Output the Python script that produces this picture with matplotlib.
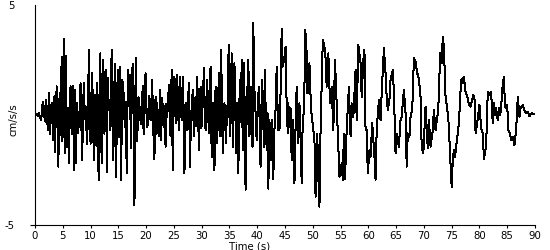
import matplotlib
matplotlib.use("Agg")
import matplotlib.pyplot as plt
import numpy as np

# Acceleration record (cm/s/s)
# early part, 0-22 s
time_early = [0.0, 0.3, 0.5, 0.7, 0.9, 1.1, 1.25, 1.4, 1.55, 1.7, 1.85, 2.0, 2.15, 2.3, 2.5, 2.7,
              2.85, 3.0, 3.15, 3.3, 3.5, 3.6, 3.75, 3.9, 4.05, 4.2, 4.35, 4.45, 4.55, 4.7, 4.8, 4.9,
              5.05, 5.2, 5.3, 5.4, 5.5, 5.6, 5.7, 5.8, 5.95, 6.1, 6.25, 6.4, 6.55, 6.7, 6.85, 7.0,
              7.15, 7.3, 7.45, 7.6, 7.75, 7.9, 8.05, 8.2, 8.35, 8.5, 8.65, 8.8, 8.95, 9.1, 9.25,
              9.4, 9.55, 9.7, 9.85, 10.0, 10.15, 10.3, 10.45, 10.6, 10.75, 10.9, 11.05, 11.15, 11.3,
              11.45, 11.6, 11.75, 11.9, 12.0, 12.15, 12.3, 12.5, 12.65, 12.8, 12.95, 13.1, 13.25,
              13.4, 13.5, 13.65, 13.8, 13.95, 14.1, 14.25, 14.4, 14.6, 14.75, 14.9, 15.05, 15.2,
              15.35, 15.5, 15.7, 15.9, 16.05, 16.2, 16.35, 16.5, 16.65, 16.8, 16.95, 17.1, 17.25,
              17.4, 17.6, 17.75, 17.9, 18.05, 18.15, 18.3, 18.45, 18.6, 18.75, 18.9, 19.05, 19.2,
              19.4, 19.5, 19.6, 19.75, 19.9, 20.05, 20.2, 20.35, 20.5, 20.65, 20.8, 20.95, 21.1,
              21.25, 21.4, 21.5, 21.6, 21.75, 21.9]
accel_early = [0.0, 0.05, -0.05, 0.08, -0.08, -0.25, 0.2, 0.6, -0.1, 0.4, -0.3, 0.7, 0.1, -0.7, 1.0, -0.85,
               0.2, 0.55, -0.4, -1.15, 0.85, -1.7, 0.2, 1.3, -0.6, -2.35, 0.4, 1.0, -0.9, 2.2, -1.2, 2.65,
               -1.0, 3.45, 0.2, -1.75, 2.7, 1.5, -1.3, -1.45, 0.3, -2.2, 0.6, 1.3, -0.6, -0.85, 1.3, -2.5,
               1.15, -2.2, -0.3, 0.55, -0.8, -0.4, 0.35, 1.45, -0.5, -2.05, 0.3, 1.45, -0.2, 0.4, -0.6,
               -1.3, 0.6, 2.95, 0.3, -1.3, 0.9, 1.9, -0.3, -2.05, 0.9, 0.55, -1.4, 1.45, 0.1,
               -2.95, 0.8, 2.8, -0.5, -2.2, 1.45, 2.5, -0.85, 0.4, 2.05, -2.6, 1.7, 0.55,
               0.3, -0.7, 1.0, 2.95, -0.5, -2.05, 1.0, 2.3, -2.8, 0.3, 2.05, 0.3, -1.0,
               2.2, -2.95, 1.6, 1.3, 0.0, -0.55, 0.6, -2.65, 0.4, 2.05, 0.4, 1.8, -1.5,
               1.75, 2.3, -0.25, -4.1, 0.5, 2.6, -1.2, -0.7, 0.8, 0.68, 0.0, -0.4, 0.4,
               1.3, -0.5, -0.85, 0.9, 1.9, 0.15, -0.55, -0.3, 0.85, 0.7, -0.25, 0.3, 1.6,
               -0.5, -1.3, -2.0, 0.55, 0.8, -0.85]

# strong shaking, 22-50 s
time_strong = [22.0, 22.15, 22.3, 22.5, 22.7, 22.9, 23.05, 23.2, 23.35, 23.5, 23.65, 23.8, 23.95, 24.1,
               24.25, 24.4, 24.6, 24.8, 24.95, 25.1, 25.25, 25.4, 25.6, 25.75, 25.9, 26.1, 26.25, 26.4,
               26.6, 26.75, 26.9, 27.05, 27.2, 27.4, 27.55, 27.7, 27.9, 28.05, 28.2, 28.4, 28.6, 28.75,
               28.9, 29.05, 29.2, 29.35, 29.5, 29.65, 29.8, 29.95, 30.1, 30.25, 30.4, 30.55, 30.7,
               30.85, 31.0, 31.15, 31.3, 31.45, 31.6, 31.8, 32.0, 32.15, 32.3, 32.5, 32.65, 32.8,
               32.95, 33.1, 33.3, 33.5, 33.65, 33.8, 33.95, 34.1, 34.25, 34.4, 34.55, 34.7, 34.85,
               35.0, 35.1, 35.25, 35.4, 35.6, 35.75, 35.9, 36.05, 36.2, 36.4, 36.6, 36.75, 36.9,
               37.05, 37.2, 37.4, 37.6, 37.75, 37.9, 38.1, 38.25, 38.4, 38.6, 38.75, 38.9, 39.15,
               39.3, 39.45, 39.6, 39.75, 39.9, 40.1, 40.3, 40.45, 40.6, 40.75, 40.9, 41.05, 41.2,
               41.4, 41.55, 41.7, 41.85, 42.0, 42.2, 42.4, 42.6, 42.75, 42.9, 43.05, 43.2, 43.35,
               43.5, 43.65, 43.8, 44.0, 44.2, 44.4, 44.55, 44.7, 44.9, 45.1, 45.3, 45.5, 45.6, 45.8,
               46.0, 46.2, 46.35, 46.5, 46.7, 46.9, 47.1, 47.25, 47.4, 47.6, 47.8, 48.0, 48.15,
               48.3, 48.5, 48.65, 48.9, 49.05, 49.2, 49.4, 49.55, 49.7, 49.9]
accel_strong = [0.55, -0.3, -0.98, 1.14, -1.14, 0.76, 0.1, -0.53, 0.4, -1.44, 0.5, -0.08, 0.6, 1.36,
                -0.3, -0.98, 2.05, -2.5, 0.3, 1.74, 0.5, -0.38, 1.82, 0.2, -0.68, 1.74, 0.4, -0.23,
                1.74, 0.3, -2.65, -0.2, 0.53, -0.68, 0.6, 1.44, -2.35, -0.4, 0.38, 1.14, -0.98, 0.3,
                0.83, -0.5, 1.74, 0.2, -1.6, 0.2, 1.29, -0.6, 0.08, 0.9, 2.12, 0.4, -0.68,
                0.5, 1.6, 0.2, -0.84, 0.6, 2.2, -1.9, 0.53, -0.6, -2.5, 1.29, 0.2, -1.29,
                0.5, 1.9, -0.98, 2.95, 0.6, -1.74, -0.2, 0.53, -0.5, -1.29, 0.4, -0.08, 3.2,
                0.6, -0.98, 0.5, 2.8, -1.44, 0.4, 2.35, 0.2, -1.74, 0.53, -2.65, 0.2, 1.6,
                -0.3, 2.5, -1.6, 2.35, 0.3, -3.4, 1.29, -0.4, 2.5, -0.98, 0.3, 1.29, -1.44,
                4.2, 1.2, 0.83, -0.3, -1.14, 0.5, 1.29, -0.6, -2.35, 0.3, 1.6, 0.2, -1.44,
                2.05, -0.4, -1.6, 0.1, -3.35, -0.23, -2.05, -0.23, -1.4, -2.9, -0.8, -0.38, 0.6,
                2.2, 0.5, -0.68, -0.7, 1.0, 3.9, 2.2, 2.35, 2.65, 3.1, 0.38, -0.84, 0.53, -0.53,
                0.3, -2.05, -0.9, -0.23, -3.1, -0.6, 1.29, -0.3, -1.29, 0.53, -1.0, -3.1, -0.8,
                -0.23, 1.29, 3.86, 2.8, 1.0, 1.29, 2.35, 1.2, 0.23, -0.23]

# coda, 50-90 s
time_coda = [50.3, 50.5, 50.8, 51.0, 51.2, 51.4, 51.6, 51.8, 52.1, 52.3, 52.5, 52.8, 53.1, 53.4, 53.7,
             54.0, 54.3, 54.6, 54.8, 55.2, 55.4, 55.6, 55.8, 56.1, 56.5, 56.8, 57.0, 57.3, 57.7,
             57.9, 58.2, 58.6, 58.8, 59.1, 59.3, 59.5, 59.7, 59.9, 60.2, 60.4, 60.7, 61.1, 61.3,
             61.5, 61.9, 62.2, 62.4, 62.8, 63.1, 63.3, 63.5, 63.8, 64.0, 64.4, 64.6, 64.9, 65.1,
             65.5, 65.8, 66.0, 66.4, 66.7, 66.9, 67.1, 67.4, 67.6, 67.9, 68.2, 68.5, 68.8, 69.1,
             69.4, 69.6, 69.9, 70.3, 70.7, 70.9, 71.2, 71.6, 71.8, 72.1, 72.5, 72.7, 72.9, 73.1,
             73.2, 73.4, 73.6, 73.9, 74.3, 74.5, 74.7, 75.0, 75.2, 75.4, 75.6, 75.8, 76.1, 76.3,
             76.7, 77.0, 77.1, 77.2, 77.5, 77.9, 78.1, 78.4, 78.9, 79.2, 79.3, 79.5, 79.8, 80.0,
             80.3, 80.6, 80.8, 81.0, 81.2, 81.5, 81.9, 82.1, 82.4, 82.6, 82.8, 83.0, 83.3, 83.5,
             83.7, 83.9, 84.1, 84.4, 84.6, 84.9, 85.0, 85.2, 85.5, 85.7, 86.0, 86.3, 86.6, 86.9,
             87.2, 87.4, 87.8, 88.2, 88.4, 88.7, 89.0, 89.4, 89.9]
accel_coda = [-1.14, -3.71, -0.84, -2.8, -4.17, -0.68, 1.29, 3.41, 3.1, 2.6, 1.29, 2.8, 0.53, 1.29, -0.68,
              2.5, 0.53, -1.44, -2.8, -2.2, -2.95, -0.84, -2.9, -0.68, 1.29, -0.98, 0.53, -0.1, 2.05,
              -0.23, 3.18, 2.35, 0.83, 2.5, 2.95, -0.68, -0.68, -2.65, -1.6, -1.9, -0.38, -1.9, -2.95,
              -0.68, 0.68, -0.23, 0.98, 3.03, 1.9, 0.83, 0.23, 0.68, 1.6, 2.05, 1.06, -1.74, -0.84,
              -1.44, -0.23, -0.08, 1.14, 0.08, -2.35, -0.84, -0.98, -0.08, 0.23, 2.58, 2.43, 1.9, 1.67,
              0.8, -1.44, -1.74, 0.38, -1.52, -0.23, -1.44, -0.68, 0.23, -0.68, 0.08, 0.8, 2.8, 2.8,
              2.35, 3.56, 3.1, 0.83, 0.08, -0.53, -1.74, -3.26, -2.05, -1.6, -1.9, -1.44, -0.84, -0.38,
              1.6, 1.67, 1.44, 1.74, 1.06, 0.76, 0.48, 0.38, 0.9, 0.6, -0.83, -0.53, 0.08, 0.45,
              -0.6, -0.83, -2.0, -1.74, -1.4, 1.06, 0.9, 1.06, -0.38, 0.53, 0.0, 0.3, -0.23, 0.3,
              0.0, 0.3, 1.14, 1.74, 0.38, 0.3, 0.45, -0.68, -0.83, -1.14, -0.98, -1.36, -0.68, 0.83,
              -0.08, 0.3, 0.45, 0.15, 0.08, 0.15, -0.05, 0.08, 0.03]

x_ticks = list(range(0, 95, 5))
y_ticks = [-5, 5]

FONT = ["Liberation Sans Narrow", "DejaVu Sans"]
plt.rcParams["font.family"] = FONT
plt.rcParams["axes.unicode_minus"] = False


def plot_accelerogram(path="out.png"):
    """
    Draws the acceleration time history and saves it as a PNG.
    """
    t = np.concatenate([time_early, time_strong, time_coda])
    a = np.concatenate([accel_early, accel_strong, accel_coda])

    fig = plt.figure(figsize=(5.5, 2.5), dpi=100)
    ax = fig.add_axes([35 / 550, 25 / 250, 500 / 550, 220 / 250])

    # crisp 1px trace, like the original screen plot
    ax.plot(t, a, color="black", linewidth=0.72, antialiased=False)

    ax.set_xlim(0, 90)
    ax.set_ylim(-5, 5)
    ax.set_xticks(x_ticks)
    ax.set_yticks(y_ticks)

    for side in ("top", "right"):
        ax.spines[side].set_visible(False)
    for side in ("left", "bottom"):
        ax.spines[side].set_linewidth(0.8)

    ax.tick_params(axis="x", direction="out", length=2.5, width=0.8, pad=2, labelsize=7.3)
    ax.tick_params(axis="y", direction="out", length=3.6, width=0.8, pad=11, labelsize=7.3)
    # only the lower y tick is drawn in the original
    ax.yaxis.get_major_ticks()[1].tick1line.set_visible(False)

    ax.set_xlabel("Time (s)", fontsize=7.3)
    ax.xaxis.set_label_coords(0.43, -0.075)
    ax.set_ylabel("cm/s/s", fontsize=7.3)
    ax.yaxis.set_label_coords(-0.032, 0.48)

    fig.savefig(path, dpi=100)
    plt.close(fig)


if __name__ == "__main__":
    plot_accelerogram()
